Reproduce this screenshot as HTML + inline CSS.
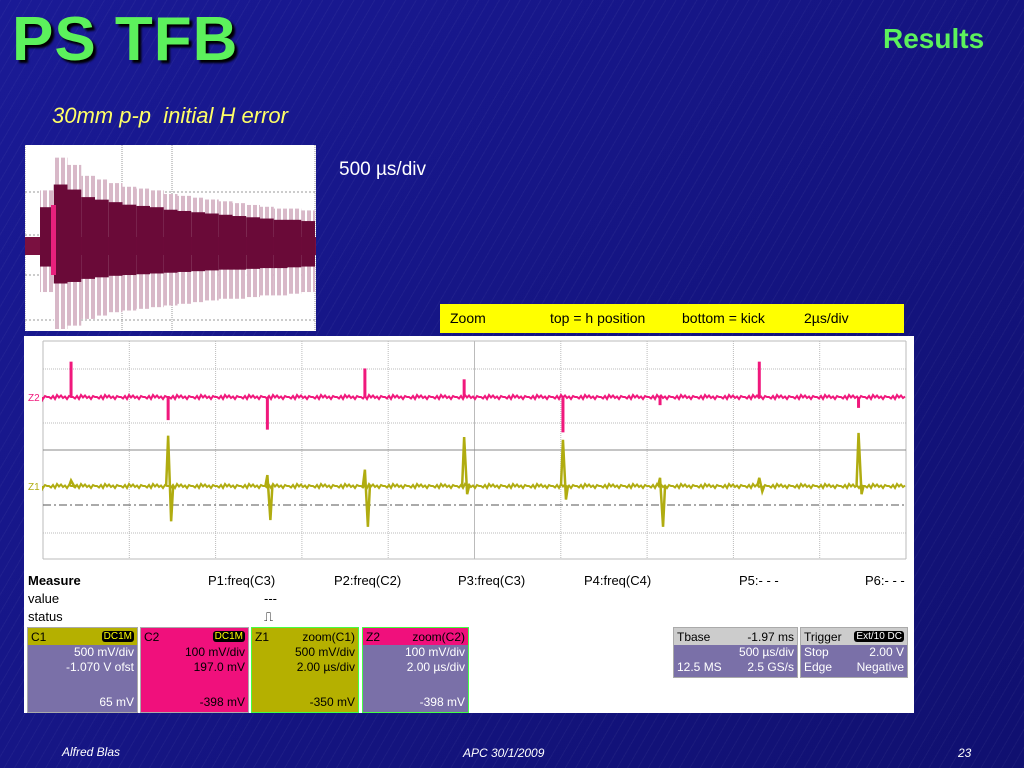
<!DOCTYPE html>
<html><head><meta charset="utf-8"><style>
body{margin:0;width:1024px;height:768px;overflow:hidden;position:relative;font-family:"Liberation Sans",sans-serif;
background:#15158a;background-image:repeating-linear-gradient(120deg,rgba(255,255,255,0.04) 0 1px,transparent 1px 9px),linear-gradient(135deg,#1a1a96,#101070);}
.a{position:absolute;white-space:nowrap}
.box{position:absolute;background:#7a70a8;color:#fff;font-size:12px;border:1px solid #aaa;box-sizing:border-box}
.hd{height:17px;padding:0 3px;display:flex;justify-content:space-between;align-items:center;font-size:12px}
.ln{text-align:right;padding-right:3px;line-height:15px}
.tag{background:#000;color:#ff0;border-radius:3px;padding:0 2px;font-size:10px}
</style></head><body>
<div class="a" style="left:12px;top:4px;font-size:62px;font-weight:bold;color:#5cf15c;text-shadow:3px 3px 2px #000;letter-spacing:1px">PS TFB</div>
<div class="a" style="left:883px;top:23px;font-size:28px;font-weight:bold;color:#5cf15c">Results</div>
<div class="a" style="left:52px;top:103px;font-size:22px;font-style:italic;color:#ffff66">30mm p-p&nbsp; initial H error</div>
<div class="a" style="left:339px;top:159px;font-size:19px;color:#fff">500 µs/div</div>
<div class="a" style="left:440px;top:304px;width:464px;height:29px;background:#ffff00;font-size:14px;color:#000;line-height:29px">
<span style="position:absolute;left:10px">Zoom</span><span style="position:absolute;left:110px">top = h position</span><span style="position:absolute;left:242px">bottom = kick</span><span style="position:absolute;left:364px">2µs/div</span></div>
<svg id="thumb" class="a" style="left:25px;top:145px" width="291" height="186"><defs><pattern id="st" width="6" height="10" patternUnits="userSpaceOnUse"><rect width="6" height="10" fill="#fff"/><rect width="4" height="10" fill="#d8b8c8"/></pattern></defs></svg>
<div class="a" style="left:24px;top:336px;width:890px;height:377px;background:#fff"></div>
<svg id="scope" class="a" style="left:24px;top:336px" width="890" height="240"></svg>
<div class="a" style="left:28px;top:572px;font-size:13px;color:#000;line-height:18px;width:880px">
<b style="position:absolute;left:0">Measure</b><span style="position:absolute;left:180px">P1:freq(C3)</span><span style="position:absolute;left:306px">P2:freq(C2)</span><span style="position:absolute;left:430px">P3:freq(C3)</span><span style="position:absolute;left:556px">P4:freq(C4)</span><span style="position:absolute;left:711px">P5:- - -</span><span style="position:absolute;left:837px">P6:- - -</span>
<span style="position:absolute;left:0;top:18px">value</span><span style="position:absolute;left:236px;top:18px">---</span>
<span style="position:absolute;left:0;top:36px">status</span><span style="position:absolute;left:236px;top:36px">⎍</span></div>
<div class="box" style="left:27px;top:627px;width:111px;height:86px"><div class="hd" style="background:#b5b000;color:#000">C1<span class="tag">DC1M</span></div><div class="ln">500 mV/div</div><div class="ln">-1.070 V ofst</div><div class="ln" style="margin-top:20px">65 mV</div></div>
<div class="box" style="left:140px;top:627px;width:109px;height:86px;background:#f0107c"><div class="hd" style="color:#000">C2<span class="tag">DC1M</span></div><div class="ln" style="color:#000">100 mV/div</div><div class="ln" style="color:#000">197.0 mV</div><div class="ln" style="margin-top:20px;color:#000">-398 mV</div></div>
<div class="box" style="left:251px;top:627px;width:108px;height:86px;background:#b5b000;border-color:#4f4"><div class="hd" style="color:#000">Z1<span>zoom(C1)</span></div><div class="ln" style="color:#000">500 mV/div</div><div class="ln" style="color:#000">2.00 µs/div</div><div class="ln" style="margin-top:20px;color:#000">-350 mV</div></div>
<div class="box" style="left:362px;top:627px;width:107px;height:86px;border-color:#4f4"><div class="hd" style="background:#f0107c;color:#000">Z2<span>zoom(C2)</span></div><div class="ln">100 mV/div</div><div class="ln">2.00 µs/div</div><div class="ln" style="margin-top:20px">-398 mV</div></div>
<div class="box" style="left:673px;top:627px;width:125px;height:51px"><div class="hd" style="background:#ccc;color:#000">Tbase<span>-1.97 ms</span></div><div class="ln">500 µs/div</div><div class="ln" style="display:flex;justify-content:space-between;padding-left:3px"><span>12.5 MS</span><span>2.5 GS/s</span></div></div>
<div class="box" style="left:800px;top:627px;width:108px;height:51px"><div class="hd" style="background:#ccc;color:#000">Trigger<span class="tag" style="color:#fff">Ext/10 DC</span></div><div class="ln" style="display:flex;justify-content:space-between;padding-left:3px"><span>Stop</span><span>2.00 V</span></div><div class="ln" style="display:flex;justify-content:space-between;padding-left:3px"><span>Edge</span><span>Negative</span></div></div>
<div class="a" style="left:62px;top:745px;font-size:12px;font-style:italic;color:#fff">Alfred Blas</div>
<div class="a" style="left:463px;top:746px;font-size:12px;font-style:italic;color:#fff">APC 30/1/2009</div>
<div class="a" style="left:958px;top:746px;font-size:12px;font-style:italic;color:#fff">23</div>
<script>
// Zoom chart data (time in µs, amplitudes in divisions)
const spikeTimes=[0.65,2.9,5.2,7.46,9.76,12.05,14.3,16.6,18.9];
const pinkAmp=[1.3,-0.85,-1.2,1.05,0.65,-1.3,-0.3,1.3,-0.4];
const yellowUp=[0.2,1.85,0.4,0.6,1.8,1.7,0.3,0.3,1.95];
const yellowDown=[0,-1.3,-1.25,-1.5,-0.3,-0.5,-1.5,-0.2,-0.3];
// Overview envelope (divisions, upper / lower) per burst segment
const envUpper=[1.5,2.4,2.2,1.9,1.8,1.7,1.6,1.55,1.5,1.4,1.35,1.3,1.25,1.2,1.15,1.1,1.05,1.0,1.0,0.95];
const envLower=[-1.4,-2.5,-2.4,-2.2,-2.1,-2.0,-1.95,-1.9,-1.85,-1.8,-1.75,-1.7,-1.65,-1.6,-1.6,-1.55,-1.5,-1.5,-1.45,-1.4];
const NS='http://www.w3.org/2000/svg';
function mk(p,t,a){const e=document.createElementNS(NS,t);for(const k in a)e.setAttribute(k,a[k]);p.appendChild(e);return e;}
const sc=document.getElementById('scope');
const X0=19,X1=882,Y0=5,Y1=223;
const xs=t=>X0+(X1-X0)*t/20;
const divPx=27.2;
const pinkBase=61,yelBase=150;
for(let i=0;i<=10;i++){const l=mk(sc,'line',{x1:xs(i*2),x2:xs(i*2),y1:Y0,y2:Y1,stroke:'#bbb','stroke-dasharray':i%5==0?'':'1 1'});}
[5,33,87,114,197,223].forEach(y=>{const l=mk(sc,'line',{x1:X0,x2:X1,y1:y,y2:y,stroke:y==114?'#888':'#bbb','stroke-dasharray':(y==5||y==223||y==114)?'':'1 1'});});
const dd=mk(sc,'line',{x1:X0,x2:X1,y1:169,y2:169,stroke:'#555','stroke-dasharray':'8 3 2 3'});

const jit=[0,1.5,-1,2,-2,0.5,-1.5,1,-0.5,2,-1,0];
function trace(base,color,fn){let d='M'+X0+' '+base;for(let x=X0;x<=X1;x+=2){d+='L'+x+' '+(base+jit[(x/2|0)%jit.length]);}const p=mk(sc,'path',{d:d,stroke:color,'stroke-width':2,fill:'none'});fn(p);}
trace(pinkBase,'#f0187c',p=>{});
trace(yelBase,'#b0ac10',p=>{});
spikeTimes.forEach((t,i)=>{const x=xs(t);
 const s=mk(sc,'line',{x1:x,x2:x,y1:pinkBase,y2:pinkBase-pinkAmp[i]*divPx,stroke:'#f0187c','stroke-width':3});
 
 const u=mk(sc,'polyline',{points:`${x-2},${yelBase} ${x},${yelBase-yellowUp[i]*divPx} ${x+3},${yelBase-yellowDown[i]*divPx} ${x+5},${yelBase}`,stroke:'#b0ac10','stroke-width':2.5,fill:'none'});
 });
[['Z2',pinkBase,'#f0187c'],['Z1',yelBase,'#b0ac10']].forEach(a=>{const t=mk(sc,'text',{x:4,y:a[1]+4,fill:a[2],'font-size':10,'font-family':'Liberation Sans'});t.textContent=a[0];});
// overview
const th=document.getElementById('thumb');
mk(th,'rect',{x:0,y:0,width:291,height:186,fill:'#fff'});
[0,97,147,290].forEach(x=>mk(th,'line',{x1:x,x2:x,y1:0,y2:186,stroke:'#999','stroke-dasharray':'1 1'}));
[47,90,130,175].forEach(y=>mk(th,'line',{x1:0,x2:291,y1:y,y2:y,stroke:'#999','stroke-dasharray':'2 2'}));
const tb=100,tdiv=28,n=envUpper.length,x0t=15,w=(290-x0t)/n;
envUpper.forEach((u,i)=>{const x=x0t+i*w;
 const r=mk(th,'rect',{x:x,y:tb-u*tdiv*1.3,width:w,height:(u*1.3-envLower[i]*1.2)*tdiv,fill:'url(#st)'});
 });
mk(th,'rect',{x:0,y:tb-8,width:291,height:18,fill:'#7a1040'});
envUpper.forEach((u,i)=>{const x=x0t+i*w;
 const r2=mk(th,'rect',{x:x,y:tb-u*tdiv*0.9,width:w,height:(u*0.9-envLower[i]*0.55)*tdiv,fill:'#6a0a38'});
 });
mk(th,'rect',{x:26,y:60,width:5,height:70,fill:'#e8207c'});
</script>
</body></html>
